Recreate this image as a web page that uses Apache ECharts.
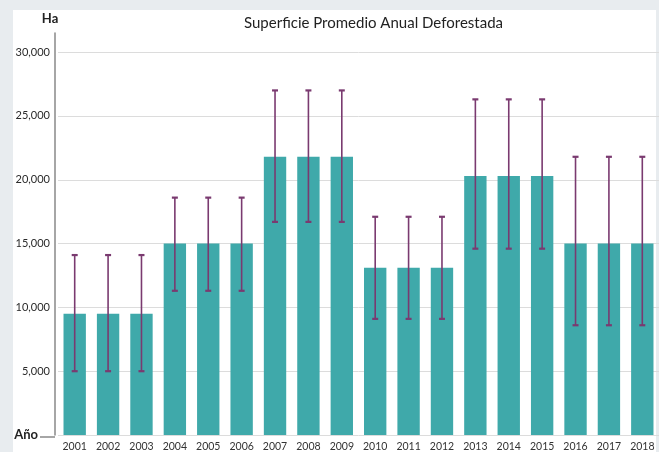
<!DOCTYPE html>
<html>
<head>
<meta charset="utf-8">
<script src="https://cdn.jsdelivr.net/npm/echarts@6/dist/echarts.min.js"></script>
<style>
  html, body { margin: 0; padding: 0; background: #e8ecef; }
  #chart { width: 659px; height: 452px; }
</style>
</head>
<body>
<div id="chart"></div>
<script>
const years = ['2001', '2002', '2003', '2004', '2005', '2006', '2007', '2008', '2009',
  '2010', '2011', '2012', '2013', '2014', '2015', '2016', '2017', '2018']
const values = [9500, 9500, 9500, 15000, 15000, 15000, 21800, 21800, 21800,
  13100, 13100, 13100, 20300, 20300, 20300, 15000, 15000, 15000]
const errLow = [5000, 5000, 5000, 11300, 11300, 11300, 16700, 16700, 16700,
  9100, 9100, 9100, 14600, 14600, 14600, 8600, 8600, 8600]
const errHigh = [14100, 14100, 14100, 18600, 18600, 18600, 27000, 27000, 27000,
  17100, 17100, 17100, 26300, 26300, 26300, 21800, 21800, 21800]

const barColor = '#3fa9aa'
const errColor = '#7a3a70'
const font = 'Lato, "Open Sans", sans-serif'

const errData = years.map((y, i) => [i, errLow[i], errHigh[i]])

const chart = echarts.init(document.getElementById('chart'))

const renderErr = (params, api) => {
  const x = api.value(0)
  const lo = api.coord([x, api.value(1)])
  const hi = api.coord([x, api.value(2)])
  const cap = 3
  const capStyle = { stroke: errColor, lineWidth: 2.2 }
  return {
    type: 'group',
    children: [
      { type: 'line', shape: { x1: lo[0], y1: lo[1], x2: hi[0], y2: hi[1] }, style: { stroke: errColor, lineWidth: 1.6 } },
      { type: 'line', shape: { x1: hi[0] - cap, y1: hi[1], x2: hi[0] + cap, y2: hi[1] }, style: capStyle },
      { type: 'line', shape: { x1: lo[0] - cap, y1: lo[1], x2: lo[0] + cap, y2: lo[1] }, style: capStyle }
    ]
  }
}

chart.setOption({
  animation: false,
  backgroundColor: '#e8ecef',
  graphic: [
    {
      type: 'rect',
      z: -10,
      shape: { x: 13, y: 10, width: 643, height: 442 },
      style: { fill: '#ffffff' }
    },
    {
      // short axis stub next to "Año"
      type: 'line',
      shape: { x1: 40, y1: 437, x2: 55, y2: 437 },
      style: { stroke: '#888', lineWidth: 1.5 }
    }
  ],
  title: {
    text: 'Superficie Promedio Anual Deforestada',
    left: 239,
    top: 11,
    textStyle: { fontFamily: font, fontSize: 15, fontWeight: 'normal', color: '#222' }
  },
  grid: {
    left: 58,
    right: -2,
    top: 33,
    bottom: 16
  },
  xAxis: {
    type: 'category',
    data: years,
    name: 'Año',
    nameLocation: 'start',
    nameGap: 20,
    nameTextStyle: { fontFamily: font, fontSize: 13, fontWeight: 'bold', color: '#222', verticalAlign: 'middle' },
    axisLine: { show: false },
    axisTick: { show: false },
    axisLabel: { fontFamily: font, fontSize: 10.5, color: '#333', margin: 6, interval: 0 }
  },
  yAxis: {
    type: 'value',
    min: 0,
    max: 31500,
    interval: 5000,
    offset: 3,
    name: 'Ha',
    nameLocation: 'end',
    nameGap: 8,
    nameTextStyle: { fontFamily: font, fontSize: 13, fontWeight: 'bold', color: '#222', padding: [0, 10, 0, 0] },
    axisLine: { show: true, lineStyle: { color: '#888', width: 1.5 } },
    axisTick: { show: false },
    axisLabel: {
      fontFamily: font,
      fontSize: 11,
      color: '#2a2a2a',
      margin: 5,
      showMinLabel: false,
      showMaxLabel: false,
      formatter: (v) => v.toLocaleString('en-US')
    },
    splitLine: {
      lineStyle: {
        color: ['#dcdcdc', '#dcdcdc', '#dcdcdc', '#dcdcdc', '#dcdcdc', '#dcdcdc', '#dcdcdc', 'rgba(0,0,0,0)'],
        width: 1
      }
    }
  },
  series: [
    {
      type: 'bar',
      data: values,
      barWidth: '67%',
      itemStyle: { color: barColor }
    },
    {
      type: 'custom',
      data: errData,
      renderItem: renderErr,
      encode: { x: 0, y: [1, 2] },
      z: 5
    }
  ]
})
</script>
</body>
</html>
